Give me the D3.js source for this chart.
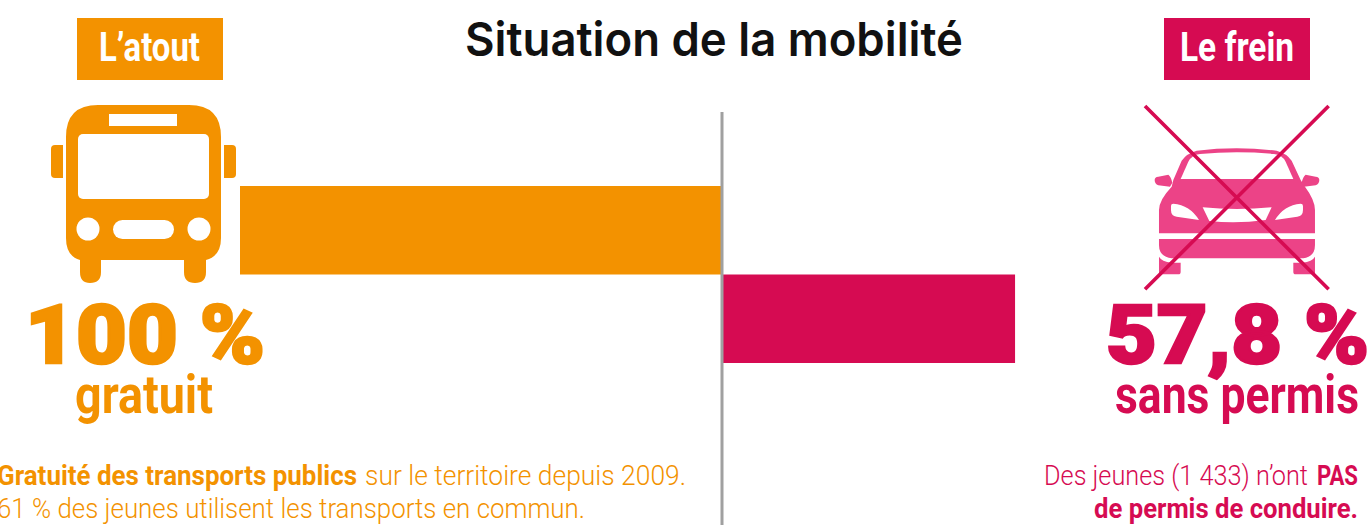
<!DOCTYPE html>
<html lang="fr">
<head>
<meta charset="utf-8">
<title>Situation de la mobilité</title>
<script src="https://cdn.jsdelivr.net/npm/d3@7"></script>
<style>
    html, body { margin: 0; padding: 0; background: #fff; overflow: hidden; }
    svg { display: block; }
    text { font-family: Roboto, sans-serif; font-variant-ligatures: none; }
</style>
</head>
<body>
<div id="chart"></div>
<script>
const categories = ["L’atout", "Le frein"];
const barValues = [-100, 60.8];
const barColors = ["#f39200", "#d60b52"];
const axisDomain = [-100, 100];

const width = 1371, height = 525;
const orange = barColors[0], pink = barColors[1], carPink = "#ec4387";

const svg = d3.select("#chart")
    .append("svg")
    .attr("width", width)
    .attr("height", height);

const x = d3.scaleLinear().domain(axisDomain).range([240, 1204]);
const y = d3.scaleBand().domain(categories).range([186, 363]).paddingInner(0);

// Barres
svg.selectAll("rect.bar")
    .data(categories)
    .join("rect")
    .attr("class", "bar")
    .attr("x", (d, i) => Math.min(x(0), x(barValues[i])))
    .attr("y", d => y(d))
    .attr("width", (d, i) => Math.abs(x(barValues[i]) - x(0)))
    .attr("height", y.bandwidth())
    .attr("fill", (d, i) => barColors[i]);

// Axe central
svg.append("line")
    .attr("x1", x(0)).attr("x2", x(0))
    .attr("y1", 112).attr("y2", height)
    .attr("stroke", "#a0a0a0")
    .attr("stroke-width", 3);

// Texte calé sur une largeur mesurée
function label(str, left, right, baseline, size, weight, color, family) {
    return svg.append("text")
        .attr("x", left)
        .attr("y", baseline)
        .attr("textLength", right - left)
        .attr("lengthAdjust", "spacingAndGlyphs")
        .style("font-family", family || "Roboto, sans-serif")
        .style("font-size", size + "px")
        .style("font-weight", weight)
        .attr("fill", color)
        .text(str);
}

// Titre
label("Situation de la mobilité", 465, 963, 56, 47, 600, "#111", "Inter, sans-serif");

// Badges
svg.append("rect").attr("x", 77).attr("y", 18).attr("width", 146).attr("height", 62).attr("fill", orange);
svg.append("rect").attr("x", 1164).attr("y", 18).attr("width", 146).attr("height", 62).attr("fill", pink);
label(categories[0], 99, 200, 61, 40, 700, "#fff");
label(categories[1], 1180, 1294, 61, 40, 700, "#fff");

// Bus
const bus = svg.append("g").attr("fill", orange);
bus.append("path").attr("d", "M66,137 Q66,105 98,105 H189 Q221,105 221,137 V238 Q221,256 206,260 V272 Q206,283 195,283 Q184,283 184,272 V260 H101 V272 Q101,283 90,283 Q80,283 80,272 V260 Q66,256 66,238 Z");
bus.append("path").attr("d", "M63,145 V178 H55 Q51,178 51,174 V149 Q51,145 55,145 Z");
bus.append("path").attr("d", "M224,145 V178 H232 Q236,178 236,174 V149 Q236,145 232,145 Z");
const busHoles = bus.append("g").attr("fill", "#fff");
busHoles.append("rect").attr("x", 109).attr("y", 114).attr("width", 68).attr("height", 12);
busHoles.append("rect").attr("x", 78).attr("y", 134).attr("width", 131).attr("height", 65).attr("rx", 5);
busHoles.append("rect").attr("x", 113).attr("y", 220).attr("width", 61).attr("height", 19).attr("rx", 9.5);
busHoles.append("circle").attr("cx", 88).attr("cy", 229).attr("r", 11.5);
busHoles.append("circle").attr("cx", 199).attr("cy", 229).attr("r", 11.5);

// Voiture barrée
const car = svg.append("g").attr("transform", "translate(1090,0) scale(0.3333)");
const carShapes = car.append("g").attr("fill", carPink);
carShapes.append("path").attr("d", "M207,700 V630 Q207,600 245,560 L250,540 L275,482 Q290,460 320,452 Q440,438 560,452 Q590,460 605,482 L632,540 L645,560 Q675,600 675,630 V700 Z");
carShapes.append("path").attr("d", "M207,717 H675 V735 Q675,770 640,775 H245 Q207,770 207,735 Z");
carShapes.append("path").attr("d", "M207,770 Q215,785 245,788 H272 V815 Q272,823 265,823 H207 Z");
carShapes.append("path").attr("d", "M675,770 Q667,785 637,788 H610 V815 Q610,823 617,823 H675 Z");
carShapes.append("path").attr("d", "M194,540 Q194,531 205,530 L235,524 Q243,530 247,548 L240,560 L205,556 Q194,552 194,540 Z");
carShapes.append("path").attr("d", "M688,540 Q688,531 677,530 L647,524 Q639,530 635,548 L642,560 L677,556 Q688,552 688,540 Z");
const carHoles = car.append("g").attr("fill", "#fff");
carHoles.append("path").attr("d", "M272,537 L295,485 Q305,465 330,462 Q440,452 552,462 Q577,465 587,485 L610,537 Z");
carHoles.append("path").attr("d", "M243,618 Q243,611 250,611 Q300,615 327,660 L260,650 Q243,648 243,630 Z");
carHoles.append("path").attr("d", "M639,618 Q639,611 632,611 Q582,615 555,660 L622,650 Q639,648 639,630 Z");
carHoles.append("path").attr("d", "M338,622 Q440,632 545,622 L527,660 Q440,672 358,663 Z");
car.append("path")
    .attr("d", "M165,318 L716,868 M716,318 L165,868")
    .attr("stroke", pink)
    .attr("stroke-width", 11)
    .attr("fill", "none");

// Chiffres clés (un contour pour épaissir les graisses)
label("100 %", 25, 265, 363, 81, 900, orange).attr("stroke", orange).attr("stroke-width", 2.5);
label("gratuit", 75, 213, 413, 54, 700, orange);
label("57,8 %", 1106, 1369, 363, 81, 900, pink).attr("stroke", pink).attr("stroke-width", 2.5);
label("sans permis", 1115, 1359, 413, 54, 700, pink);

// Commentaires
label("Gratuité des transports publics", -3, 357, 485, 28, 700, orange);
label("sur le territoire depuis 2009.", 365, 686, 485, 28, 300, orange);
label("61 % des jeunes utilisent les transports en commun.", -3, 585, 518, 28, 300, orange);
label("Des jeunes (1 433) n’ont", 1044, 1308, 485, 28, 300, pink);
label("PAS", 1317, 1358, 485, 28, 700, pink);
label("de permis de conduire.", 1094, 1358, 518, 28, 700, pink);
</script>
</body>
</html>
